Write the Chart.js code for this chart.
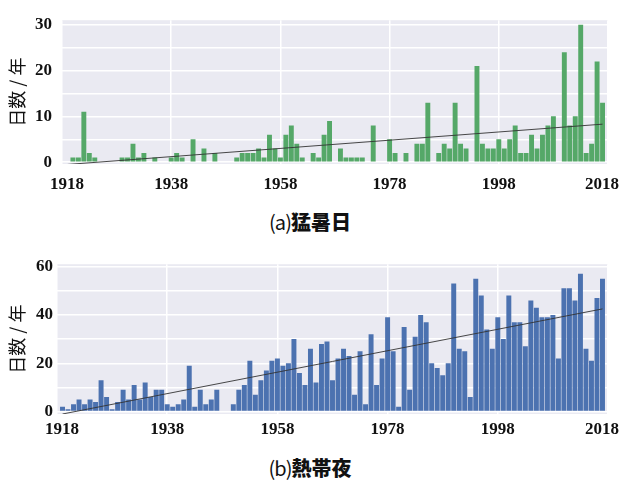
<!DOCTYPE html>
<html>
<head>
<meta charset="utf-8">
<script src="https://cdn.jsdelivr.net/npm/chart.js@4.4.0/dist/chart.umd.min.js"></script>
<style>
  body { margin: 0; background: #fff; width: 620px; height: 485px; position: relative; overflow: hidden; }
  .box { position: absolute; left: 0; width: 620px; height: 200px; }
  .cap { position: absolute; left: 0; width: 620px; text-align: center; font-size: 20px; line-height: 28px; color: #111; }
  .cap .tag { font-family: "Noto Sans CJK JP"; font-weight: 400; letter-spacing: -1px; }
  .cap .name { font-family: "Noto Sans CJK JP"; font-weight: 900; }
</style>
</head>
<body>
<div class="box" style="top:0px"><canvas id="hot-days"></canvas></div>
<div class="cap" style="top:208px"><span class="tag">(a)</span><span class="name">猛暑日</span></div>
<div class="box" style="top:250px"><canvas id="tropical-nights"></canvas></div>
<div class="cap" style="top:454px"><span class="tag">(b)</span><span class="name">熱帯夜</span></div>

<script>
"use strict";

/* --- DATA --- */

const first_year = 1919;

// 猛暑日 (days per year), 1919 - 2017
const hot_days = [
  0, 1, 1, 11, 2, 1, 0, 0, 0, 0,
  1, 1, 4, 1, 2, 0, 1, 0, 0, 1,
  2, 1, 0, 5, 0, 3, 0, 2, 0, 0,
  0, 1, 2, 2, 2, 3, 1, 6, 3, 1,
  6, 8, 4, 1, 0, 2, 1, 6, 9, 0,
  3, 1, 1, 1, 1, 0, 8, 0, 0, 5,
  2, 0, 2, 0, 4, 4, 13, 0, 2, 4,
  3, 13, 4, 3, 0, 21, 4, 3, 3, 5,
  3, 5, 8, 2, 2, 6, 3, 6, 8, 10,
  0, 24, 8, 10, 30, 2, 4, 22, 13
];

// 熱帯夜 (nights per year), 1919 - 2017
const tropical_nights = [
  2, 1, 3, 5, 3, 5, 4, 13, 6, 1,
  4, 9, 5, 11, 5, 12, 6, 9, 9, 3,
  2, 3, 5, 19, 2, 9, 3, 5, 9, 0,
  0, 3, 9, 11, 21, 7, 13, 17, 21, 22,
  19, 20, 30, 16, 11, 26, 12, 28, 29, 13,
  22, 26, 23, 7, 25, 3, 32, 11, 22, 39,
  25, 2, 35, 9, 31, 40, 37, 20, 18, 15,
  20, 53, 26, 25, 6, 55, 48, 34, 26, 39,
  30, 48, 37, 37, 27, 46, 43, 39, 39, 40,
  22, 51, 51, 46, 57, 26, 21, 47, 55
];

const years = hot_days.map((v, i) => first_year + i);

// trend lines (start / end)
const trend_years = [1919, 2017];
const trend_hot = [-0.5, 8.3];
const trend_nights = [-1.0, 42.5];

// axes
const x_ticks = [1918, 1938, 1958, 1978, 1998, 2018];
const y_grid_hot = [0, 5, 10, 15, 20, 25, 30];
const y_labels_hot = [0, 10, 20, 30];
const y_grid_nights = [0, 10, 20, 30, 40, 50, 60];
const y_labels_nights = [0, 20, 40, 60];

/* --- PLOT BACKGROUND --- */

const plot_bg = {
  id: 'plot_bg',
  beforeDraw(chart) {
    const { ctx, chartArea: a } = chart;
    ctx.save();
    ctx.fillStyle = '#EAEAF2';
    ctx.fillRect(a.left, a.top, a.right - a.left, a.bottom - a.top);
    ctx.restore();

    // pull the first / last year label inside the page edges
    const items = chart.scales.x.getLabelItems();
    if (items.length && !items.shifted) {
      items[0].options.translation[0] += 5;
      items[items.length - 1].options.translation[0] -= 6;
      items.shifted = true;
    }
  }
};

function make_chart(id, values, color, trend, y_min, y_max, y_grid, y_labels, left_width, label_pad, x_pad) {
  return new Chart(document.getElementById(id), {
    data: {
      datasets: [
        {
          type: 'line',
          data: trend_years.map((x, i) => ({ x: x, y: trend[i] })),
          borderColor: '#333333',
          borderWidth: 0.9,
          pointRadius: 0,
          order: 0
        },
        {
          type: 'bar',
          data: years.map((x, i) => ({ x: x, y: values[i] })),
          backgroundColor: color,
          borderWidth: 0,
          categoryPercentage: 1,
          barPercentage: 0.9,
          order: 1
        }
      ]
    },
    options: {
      responsive: true,
      maintainAspectRatio: false,
      animation: false,
      layout: { padding: { left: 0, right: 12, top: 7, bottom: 0 } },
      plugins: {
        legend: { display: false },
        tooltip: { enabled: false }
      },
      scales: {
        x: {
          type: 'linear',
          min: 1918,
          max: 2018,
          offset: false,
          border: { display: false },
          grid: { color: '#ffffff', lineWidth: 1.5, drawTicks: false, offset: false },
          afterBuildTicks: axis => { axis.ticks = x_ticks.map(v => ({ value: v })); },
          afterFit: scale => { scale.height = 36; scale.paddingLeft = 0; scale.paddingRight = 0; },
          ticks: {
            autoSkip: false,
            maxRotation: 0,
            padding: x_pad,
            color: '#111',
            font: { family: '"Liberation Serif", "Times New Roman", serif', size: 17, weight: 'bold' },
            callback: v => String(v)
          }
        },
        y: {
          min: y_min,
          max: y_max,
          border: { display: false },
          grid: { color: '#ffffff', lineWidth: 1.5, drawTicks: false },
          afterBuildTicks: axis => { axis.ticks = y_grid.map(v => ({ value: v })); },
          afterFit: scale => { scale.width = left_width; },
          ticks: {
            padding: label_pad,
            color: '#111',
            font: { family: '"Liberation Serif", "Times New Roman", serif', size: 17, weight: 'bold' },
            callback: v => y_labels.includes(v) ? String(v) : ''
          },
          title: {
            display: true,
            text: '日数 / 年',
            color: '#111',
            padding: { top: 6, bottom: 0 },
            font: { family: '"Noto Sans CJK JP", sans-serif', size: 18 }
          }
        }
      }
    },
    plugins: [plot_bg]
  });
}

/* --- (a) 猛暑日 --- */
make_chart('hot-days', hot_days, '#55A868', trend_hot, -0.4, 31,
  y_grid_hot, y_labels_hot, 62, 10, 10);

/* --- (b) 熱帯夜 --- */
make_chart('tropical-nights', tropical_nights, '#4C72B0', trend_nights, -1, 61,
  y_grid_nights, y_labels_nights, 57, 4, 5);
</script>
</body>
</html>
